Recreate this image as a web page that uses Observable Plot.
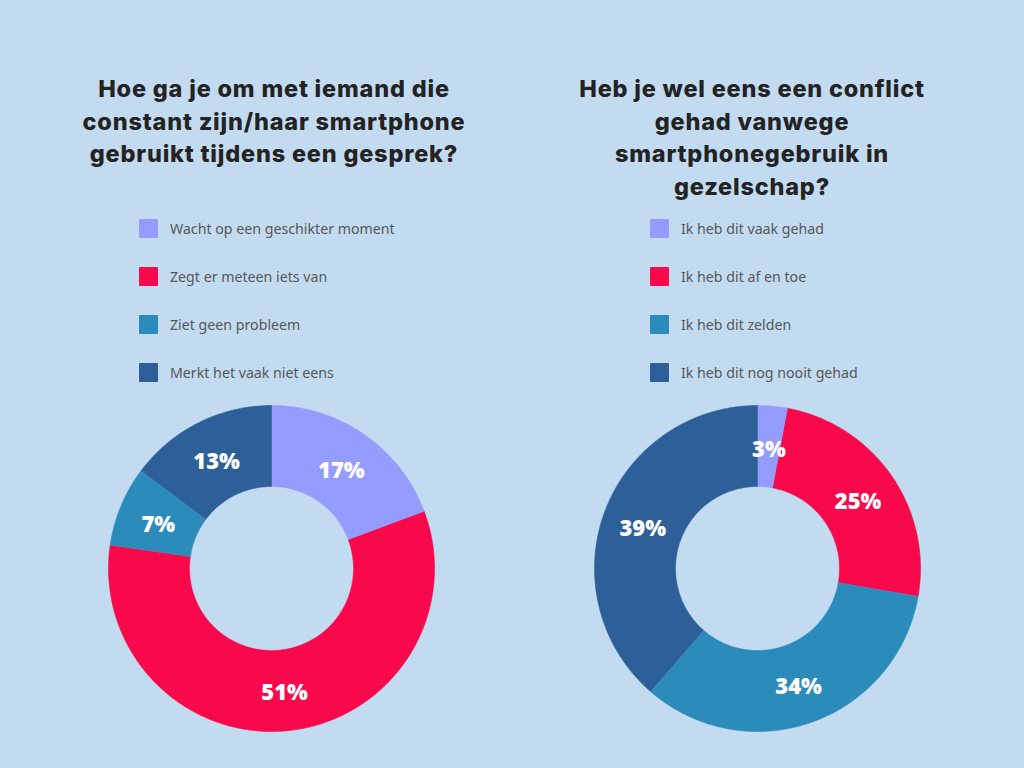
<!DOCTYPE html>
<html><head><meta charset="utf-8">
<script src="https://cdn.jsdelivr.net/npm/d3@7"></script>
<script src="https://cdn.jsdelivr.net/npm/@observablehq/plot@0.6"></script>
<style>
html,body{margin:0;padding:0;}
body{width:1024px;height:768px;background:#c3dbf0;position:relative;overflow:hidden;font-family:"Noto Sans",sans-serif;}
.title{position:absolute;top:73px;text-align:center;font-family:Inter,sans-serif;font-weight:800;font-size:23.5px;line-height:32.5px;color:#232323;width:500px;letter-spacing:0.8px;}
.legend{position:absolute;top:204px;}
.row{height:48px;display:flex;align-items:center;font-size:14.2px;color:#575757;}
.sw{width:19px;height:19px;margin-right:12px;border-radius:1px;}
.chart{position:absolute;}
</style></head>
<body>
<div id="t1" class="title" style="left:24px">Hoe ga je om met iemand die<br>constant zijn/haar smartphone<br>gebruikt tijdens een gesprek?</div>
<div id="t2" class="title" style="left:502px">Heb je wel eens een conflict<br>gehad vanwege<br>smartphonegebruik in<br>gezelschap?</div>
<div id="l1" class="legend" style="left:139px"></div>
<div id="l2" class="legend" style="left:650px"></div>
<div id="c1" class="chart" style="left:106px;top:403px"></div>
<div id="c2" class="chart" style="left:592px;top:403px"></div>
<script>
const colors = ["#959cff", "#f8094b", "#2b8bba", "#2d5f98"];

const categories1 = ["Wacht op een geschikter moment", "Zegt er meteen iets van", "Ziet geen probleem", "Merkt het vaak niet eens"];
const values1 = [17, 51, 7, 13];

const categories2 = ["Ik heb dit vaak gehad", "Ik heb dit af en toe", "Ik heb dit zelden", "Ik heb dit nog nooit gehad"];
const values2 = [3, 25, 34, 39];

function legend(el, cats) {
  const box = document.getElementById(el);
  cats.forEach((c, i) => {
    const r = document.createElement("div");
    r.className = "row";
    const s = document.createElement("div");
    s.className = "sw";
    s.style.background = colors[i];
    const t = document.createElement("span");
    t.textContent = c;
    r.appendChild(s); r.appendChild(t);
    box.appendChild(r);
  });
}

function donut(el, cats, vals) {
  const R = 163, r0 = 82, half = 165;
  const data = cats.map((c, i) => ({cat: c, value: vals[i]}));
  const arcs = d3.pie().sort(null).value(d => d.value)(data);
  const pts = [];
  const labels = [];
  arcs.forEach(a => {
    const n = Math.max(2, Math.ceil((a.endAngle - a.startAngle) / 0.01));
    for (let k = 0; k <= n; k++) {
      const t = a.startAngle + (a.endAngle - a.startAngle) * k / n;
      pts.push({cat: a.data.cat, x: R * Math.sin(t), y: -R * Math.cos(t)});
    }
    for (let k = n; k >= 0; k--) {
      const t = a.startAngle + (a.endAngle - a.startAngle) * k / n;
      pts.push({cat: a.data.cat, x: r0 * Math.sin(t), y: -r0 * Math.cos(t)});
    }
    const m = (a.startAngle + a.endAngle) / 2, rc = (R + r0) / 2;
    labels.push({x: rc * Math.sin(m), y: -rc * Math.cos(m), text: a.data.value + "%"});
  });
  const plot = Plot.plot({
    width: 2 * half, height: 2 * half,
    margin: 0,
    x: {domain: [-half, half], range: [0, 2 * half], axis: null},
    y: {domain: [-half, half], range: [0, 2 * half], axis: null},
    color: {domain: cats, range: colors},
    style: {background: "transparent", overflow: "visible"},
    marks: [
      Plot.line(pts, {x: "x", y: "y", z: "cat", fill: "cat", stroke: "cat", strokeWidth: 0.6}),
      Plot.text(labels, {x: "x", y: "y", dy: 3, text: "text", fill: "white", fontSize: 22, fontWeight: 800, fontFamily: "Open Sans, sans-serif"})
    ]
  });
  document.getElementById(el).appendChild(plot);
}

legend("l1", categories1);
legend("l2", categories2);
donut("c1", categories1, values1);
donut("c2", categories2, values2);
</script>
</body></html>
